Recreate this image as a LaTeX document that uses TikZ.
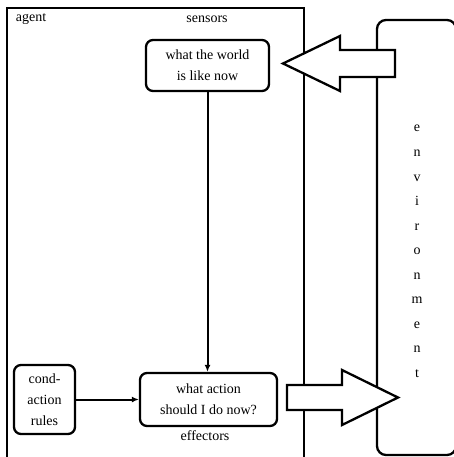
\documentclass[tikz,border=0pt]{standalone}
\usepackage{fontspec}
\setmainfont{Liberation Serif}
\usetikzlibrary{arrows.meta}
\tikzset{
  rbox/.style={draw,line width=2.3pt,rounded corners=7pt,align=center,inner sep=0pt},
  fatarrow/.style={draw,fill=white,line width=2.3pt,line join=miter},
  lbl/.style={inner sep=0pt},
  conn/.style={draw,line width=2pt,-{Latex[length=7pt,width=6pt]}}
}
\begin{document}
\begin{tikzpicture}[x=1pt,y=-1pt,font=\fontsize{14}{21}\selectfont]
\useasboundingbox (0,0) rectangle (454,457);
% agent frame
\draw[line width=1.8pt] (7,460) -- (7,8) -- (304,8) -- (304,460);
% environment box
\draw[line width=2.3pt,rounded corners=9pt] (377,20) rectangle (456,455);
% labels
\node[lbl] (agent) at (31,19) {agent};
\node[lbl] (sensors) at (207,19) {sensors};
\node[lbl] (effectors) at (205,436) {effectors};
% boxes
\node[rbox,minimum width=123pt,minimum height=51pt] (world) at (207.5,65.5) {what the world\\is like now};
\node[rbox,minimum width=137pt,minimum height=53pt] (act) at (208.5,399.5) {what action\\should I do now?};
\node[rbox,minimum width=61pt,minimum height=69pt] (cond) at (44.5,399.5) {cond-\\action\\rules};
% connectors
\path[conn] (world.south) -- (world.south |- act.north);
\path[conn] (cond.east) -- (act.west);
% big arrows
\draw[fatarrow] (395,50) -- (340,50) -- (340,36) -- (283,63.5) -- (340,91) -- (340,77) -- (395,77) -- cycle;
\draw[fatarrow] (287,385) -- (342,385) -- (342,370) -- (398,397.5) -- (342,425) -- (342,410) -- (287,410) -- cycle;
% environment letters
\foreach \c [count=\i from 0] in {e,n,v,i,r,o,n,m,e,n,t}
  \node[lbl,anchor=base] (env\i) at (417,132+24.5*\i) {\c};
\end{tikzpicture}
\end{document}
